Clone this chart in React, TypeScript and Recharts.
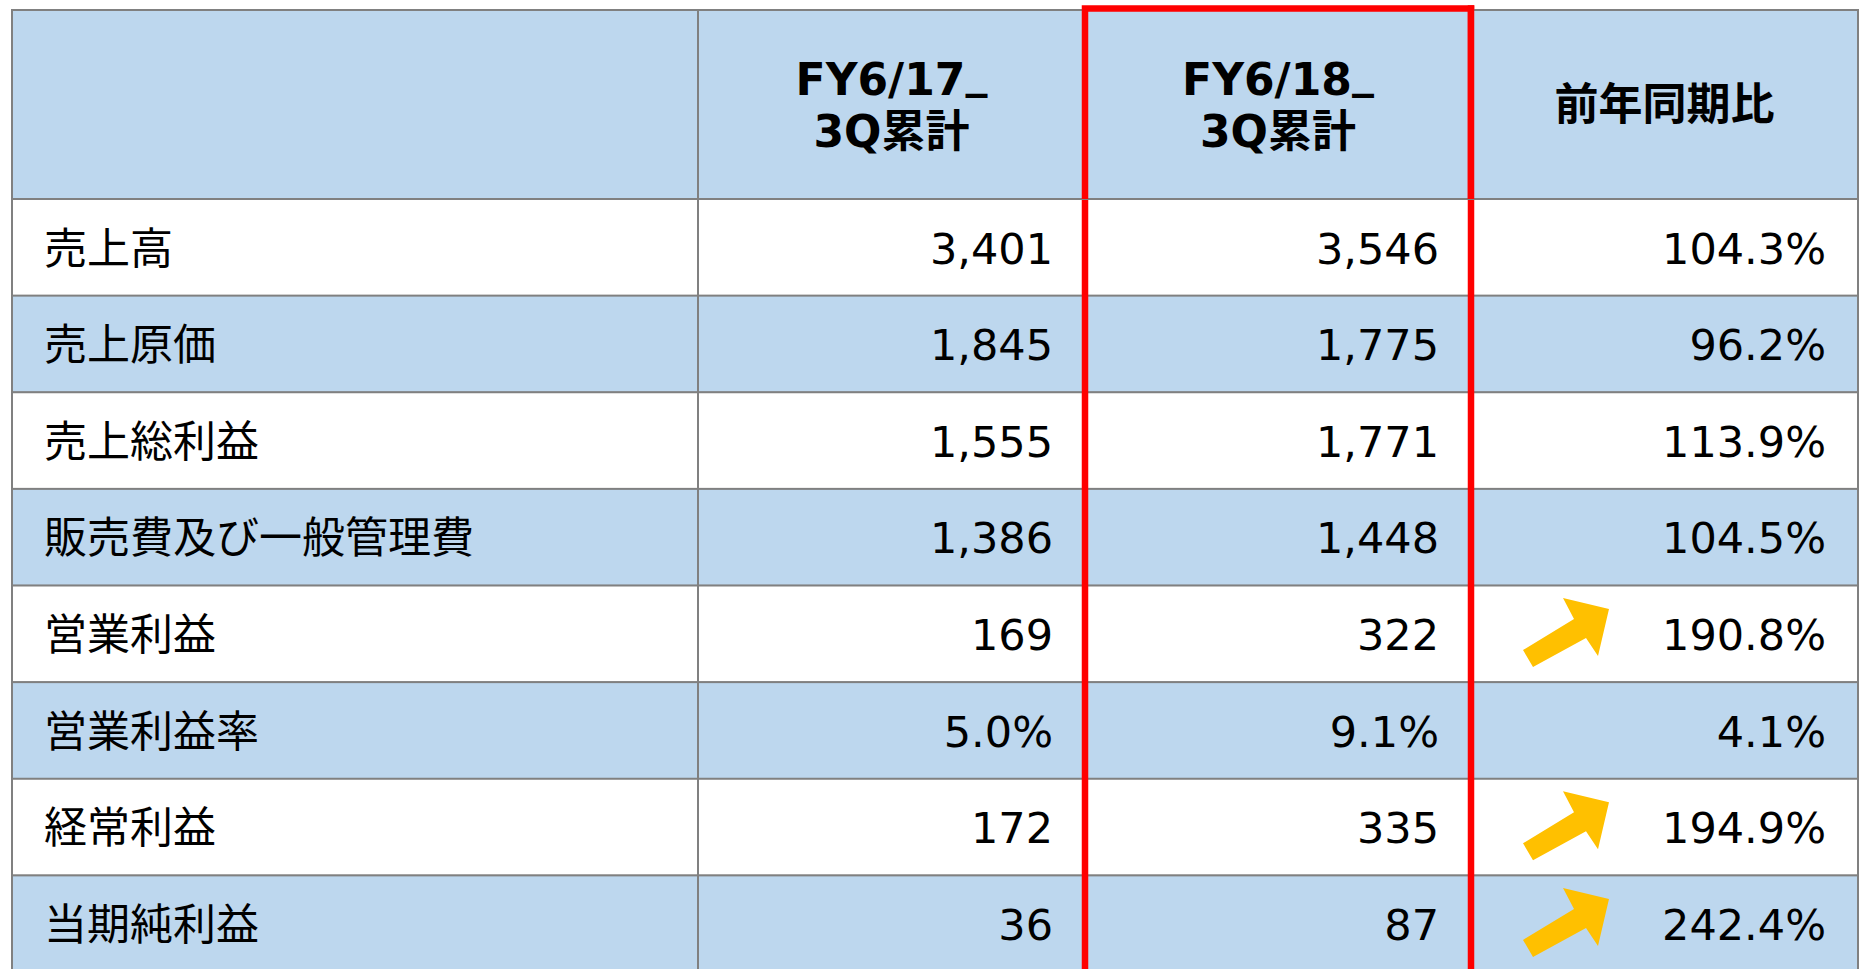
import React from "react";
import { BarChart, Bar, XAxis, YAxis, ReferenceLine } from "recharts";

// rows of the table
const rowLabels = [
  "売上高",
  "売上原価",
  "売上総利益",
  "販売費及び一般管理費",
  "営業利益",
  "営業利益率",
  "経常利益",
  "当期純利益",
];
const fy17 = [3401, 1845, 1555, 1386, 169, 5.0, 172, 36];
const fy18 = [3546, 1775, 1771, 1448, 322, 9.1, 335, 87];
const yoy = [104.3, 96.2, 113.9, 104.5, 190.8, 4.1, 194.9, 242.4];
const isRate = [false, false, false, false, false, true, false, false];
const upArrow = [false, false, false, false, true, false, true, true];
const headers: string[][] = [[], ["FY6/17_", "3Q累計"], ["FY6/18_", "3Q累計"], ["前年同期比"]];

const COL_W = [686, 387, 386, 387];
const TABLE_W = COL_W.reduce((a, b) => a + b, 0);
const COL_START = COL_W.map((_, i) => COL_W.slice(0, i).reduce((a, b) => a + b, 0));
const COL_CENTER = COL_W.map((w, i) => COL_START[i] + w / 2);

const TOP = 10;
const HEADER_H = 189;
const PAD = 32;
const BLUE = "#BDD7EE";
const GRID = "#808080";
const RED = "#FF0000";
const YELLOW = "#FFC000";
const FONT = '"DejaVu Sans", "Noto Sans CJK JP", sans-serif';

const ARROW = [
  [52, 64.5],
  [103, 33.5],
  [92, 12.5],
  [138, 23.5],
  [127, 70.5],
  [115, 52.5],
  [62, 81.5],
];

const data = rowLabels.map((label, i) => ({ label, row: i }));

function fmt(v: number, rate: boolean) {
  return rate ? v.toFixed(1) + "%" : v.toLocaleString("en-US");
}

function cellText(col: number, i: number) {
  if (col === 0) return rowLabels[i];
  if (col === 1) return fmt(fy17[i], isRate[i]);
  if (col === 2) return fmt(fy18[i], isRate[i]);
  return yoy[i].toFixed(1) + "%";
}

const makeShape = (col: number) => (props: any) => {
  const { x, y, width, height, index } = props;
  const fill = index % 2 === 1 ? BLUE : "#ffffff";
  const pts = ARROW.map(([dx, dy]) => `${x + dx},${y + dy}`).join(" ");
  return (
    <g>
      <rect x={x} y={y} width={width} height={height} fill={fill} stroke={GRID} strokeWidth={2} />
      {col === 3 && upArrow[index] && <polygon points={pts} fill={YELLOW} />}
      <text
        x={col === 0 ? x + PAD : x + width - PAD}
        y={y + height / 2 + 16}
        textAnchor={col === 0 ? "start" : "end"}
        fontSize={43}
        fontFamily={FONT}
        fill="#000"
      >
        {cellText(col, index)}
      </text>
    </g>
  );
};

// underscore in DejaVu sits too low, lift it a bit
function headerLine(t: string) {
  if (!t.endsWith("_")) return t;
  return (
    <>
      {t.slice(0, -1)}
      <tspan dy={-8}>_</tspan>
    </>
  );
}

const HeaderCell = (props: any) => {
  const { x, index } = props;
  const w = COL_W[index];
  const left = x - w / 2;
  const lines = headers[index];
  const baselines = lines.length === 2 ? [95, 147] : [120];
  return (
    <g>
      <rect x={left} y={TOP} width={w} height={HEADER_H} fill={BLUE} stroke={GRID} strokeWidth={2} />
      {lines.map((t, k) => (
        <text
          key={k}
          x={x}
          y={baselines[k]}
          textAnchor="middle"
          fontSize={44}
          fontWeight="bold"
          fontFamily={FONT}
          fill="#000"
        >
          {headerLine(t)}
        </text>
      ))}
      {index === 2 && (
        <path
          d={`M${left},${TOP + HEADER_H} V8.5 H${left + w} V${TOP + HEADER_H}`}
          fill="none"
          stroke={RED}
          strokeWidth={6.5}
        />
      )}
      {index === 3 && (
        <line x1={left} y1={5.25} x2={left} y2={TOP + HEADER_H} stroke={RED} strokeWidth={6.5} />
      )}
    </g>
  );
};

export default function App() {
  return (
    <div
      style={{
        position: "fixed",
        left: 0,
        top: 0,
        width: 1861,
        height: 969,
        overflow: "hidden",
        background: "#ffffff",
      }}
    >
      <BarChart
        width={1861}
        height={972}
        data={data}
        layout="vertical"
        barCategoryGap={0}
        barGap={0}
        margin={{ top: TOP, right: 1861 - 12 - TABLE_W, left: 12, bottom: 0 }}
      >
        <XAxis
          type="number"
          orientation="top"
          domain={[0, TABLE_W]}
          ticks={COL_CENTER}
          interval={0}
          height={HEADER_H}
          axisLine={false}
          tickLine={false}
          tick={<HeaderCell />}
        />
        <YAxis type="category" dataKey="label" hide />
        {COL_W.map((w, col) => (
          <Bar
            key={col}
            dataKey={() => w}
            stackId="t"
            shape={makeShape(col)}
            isAnimationActive={false}
          />
        ))}
        <ReferenceLine x={COL_START[2]} stroke={RED} strokeWidth={6.5} ifOverflow="visible" />
        <ReferenceLine x={COL_START[3]} stroke={RED} strokeWidth={6.5} ifOverflow="visible" />
      </BarChart>
    </div>
  );
}
